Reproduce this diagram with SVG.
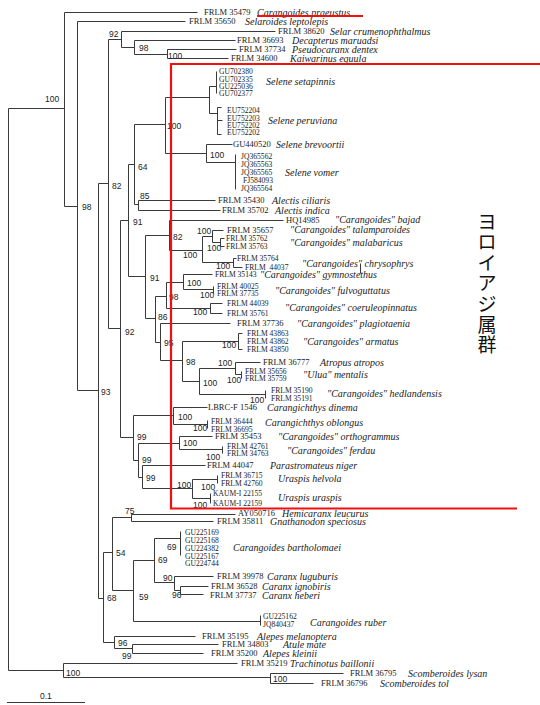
<svg xmlns="http://www.w3.org/2000/svg" width="540" height="705" viewBox="0 0 540 705">
<style>
.e{fill:none;stroke:#3a3a3a;stroke-width:1}
.a{font-family:"Liberation Serif",serif;font-size:8.5px;fill:#222}
.k{font-family:"Liberation Serif",serif;font-size:7.6px;fill:#222}
.s{font-family:"Liberation Serif",serif;font-size:10px;font-style:italic;fill:#222}
.b{font-family:"Liberation Sans",sans-serif;font-size:8.5px;fill:#222}
.r{fill:none;stroke:#f01010;stroke-width:2.2}
.j{font-family:"Noto Sans CJK JP",sans-serif;font-size:19px;fill:#111}
</style>
<rect width="540" height="705" fill="#fff"/>
<g id="connectors" transform="translate(0.5,0.5)">
<path class="e" d="M8 108V670 M8 108H64 M64 12V206 M64 12H197 M64 206H77 M77 21V390 M77 21H185 M77 390H98 M98 183V598 M98 183H108 M108 39V328 M108 39H121 M121 31V47 M121 31H275 M121 47H134 M134 40V54 M134 40H235 M134 54H167 M167 49V58 M167 49H236 M167 58H228
M108 328H120 M120 220V437 M120 220H128 M128 164V276 M128 164H134 M134 124V204 M134 124H165 M165 97V153 M165 97H209 M209 86V113 M209 86H216 M216 71V93 M209 113H217 M217 107V134 M217 107H221 M217 120H222 M217 134H221
M165 153H206 M206 144V162 M206 144H232 M206 162H235 M235 154V189
M134 204H138 M138 200V210 M138 200H215 M138 210H220
M128 276H145 M145 235V318 M145 235H169 M169 220V250 M169 220H283 M169 250H202 M202 236V262 M202 236H212 M212 230V242 M212 230H223 M212 242H220 M220 238V246 M220 238H224 M220 246H224 M202 262H233 M233 258V267 M233 258H236 M233 267H242
M145 318H155 M155 296V342 M155 296H166 M166 282V308 M166 282H183 M183 274V289 M183 274H212 M183 289H213 M213 286V293 M166 308H210 M210 303V313 M210 303H222 M210 313H222
M155 342H160 M160 323V360 M160 323H230 M160 360H182 M182 341V381 M182 341H238 M238 333V349 M238 333H242 M238 349H242 M182 381H199 M199 368V394 M199 368H235 M235 362V374 M235 362H260 M235 374H241 M241 371V378 M199 394H265 M265 390V398
M120 437H133 M133 415V460 M133 415H173 M173 407V424 M173 407H207 M173 424H207 M207 420V428 M133 460H138 M138 443V477 M138 443H179 M179 436V449 M179 436H212 M179 449H222 M222 446V453 M138 477H142 M142 465V488 M142 465H205 M142 488H192 M192 479V498 M192 479H217 M217 475V483 M192 498H210 M210 493V503
M98 598H103 M103 552V642 M103 552H112 M112 517V590 M112 517H131 M131 514V521 M131 514H235 M131 521H213 M112 590H133 M133 560V621 M133 560H154 M154 538V582 M154 538H180 M180 531V555 M154 582H174 M174 576V590 M174 576H213 M174 590H180 M180 586V594 M180 586H208 M180 594H203 M133 621H260 M260 615V625
M103 642H114 M114 636V648 M114 636H195 M114 648H132 M132 644V653 M132 644H218 M132 653H203
M8 670H63 M63 663V677 M63 663H237 M63 677H270 M270 673V683 M270 673H343 M270 683H313
M360 263V273"/>
</g>
<g id="bootstrap">
<text class="b" x="45" y="102">100</text>
<text class="b" x="82" y="210">98</text>
<text class="b" x="109" y="37">92</text>
<text class="b" x="139" y="51">98</text>
<text class="b" x="168" y="59">100</text>
<text class="b" x="167" y="129">100</text>
<text class="b" x="210" y="158">100</text>
<text class="b" x="138" y="170">64</text>
<text class="b" x="140" y="199">85</text>
<text class="b" x="112" y="189">82</text>
<text class="b" x="133" y="225">91</text>
<text class="b" x="101" y="395">93</text>
<text class="b" x="173" y="240">82</text>
<text class="b" x="197" y="234">100</text>
<text class="b" x="207" y="251">100</text>
<text class="b" x="183" y="258">100</text>
<text class="b" x="216" y="269">100</text>
<text class="b" x="150" y="281">91</text>
<text class="b" x="187" y="286">100</text>
<text class="b" x="200" y="298">100</text>
<text class="b" x="169" y="300">98</text>
<text class="b" x="193" y="315">100</text>
<text class="b" x="158" y="320">86</text>
<text class="b" x="164" y="346">95</text>
<text class="b" x="186" y="365">98</text>
<text class="b" x="222" y="348">100</text>
<text class="b" x="218" y="366">100</text>
<text class="b" x="227" y="383">100</text>
<text class="b" x="203" y="386">100</text>
<text class="b" x="250" y="403">100</text>
<text class="b" x="125" y="335">92</text>
<text class="b" x="137" y="440">99</text>
<text class="b" x="142" y="463">99</text>
<text class="b" x="146" y="481">99</text>
<text class="b" x="178" y="420">100</text>
<text class="b" x="193" y="431">100</text>
<text class="b" x="183" y="446">100</text>
<text class="b" x="206" y="460">100</text>
<text class="b" x="177" y="488">100</text>
<text class="b" x="201" y="490">100</text>
<text class="b" x="193" y="508">100</text>
<text class="b" x="125" y="514">75</text>
<text class="b" x="116" y="556">54</text>
<text class="b" x="107" y="601">68</text>
<text class="b" x="139" y="600">59</text>
<text class="b" x="158" y="563">69</text>
<text class="b" x="167" y="550">69</text>
<text class="b" x="163" y="581">90</text>
<text class="b" x="172" y="598">96</text>
<text class="b" x="118" y="646">96</text>
<text class="b" x="122" y="659">99</text>
<text class="b" x="66" y="676">100</text>
<text class="b" x="273" y="682">100</text>
</g>
<g id="scale">
<path class="e" d="M7 702.5H85"/>
<text class="b" x="40" y="699">0.1</text>
</g>
<g id="taxa">
<g id="praeustus"><text class="a" x="204" y="15">FRLM 35479</text><text class="s" x="257" y="15.5">Carangoides praeustus</text></g>
<g id="leptolepis"><text class="a" x="189" y="24">FRLM 35650</text><text class="s" x="245" y="24.5">Selaroides leptolepis</text></g>
<g id="crumenophthalmus"><text class="a" x="278" y="34">FRLM 38620</text><text class="s" x="330" y="34.5">Selar crumenophthalmus</text></g>
<g id="maruadsi"><text class="a" x="237" y="43">FRLM 36693</text><text class="s" x="292" y="43.5">Decapterus maruadsi</text></g>
<g id="dentex"><text class="a" x="239" y="52">FRLM 37734</text><text class="s" x="292" y="52.5">Pseudocaranx dentex</text></g>
<g id="equula"><text class="a" x="231" y="61">FRLM 34600</text><text class="s" x="290" y="61.5">Kaiwarinus equula</text></g>
<g id="setapinnis"><text class="k" x="219" y="74">GU702380</text><text class="k" x="219" y="81.5">GU702335</text><text class="k" x="219" y="89">GU225036</text><text class="k" x="219" y="96">GU702377</text><text class="s" x="266" y="84.5">Selene setapinnis</text></g>
<g id="peruviana"><text class="k" x="227" y="113">EU752204</text><text class="k" x="227" y="120.5">EU752203</text><text class="k" x="227" y="128">EU752202</text><text class="k" x="227" y="135">EU752202</text><text class="s" x="268" y="123.5">Selene peruviana</text></g>
<g id="brevoortii"><text class="a" x="233" y="147">GU440520</text><text class="s" x="276" y="147.5">Selene brevoortii</text></g>
<g id="vomer"><text class="k" x="241" y="159">JQ365562</text><text class="k" x="241" y="167">JQ365563</text><text class="k" x="241" y="175">JQ365565</text><text class="k" x="243" y="183">FJ584093</text><text class="k" x="241" y="191">JQ365564</text><text class="s" x="285" y="175.5">Selene vomer</text></g>
<g id="ciliaris"><text class="a" x="218" y="203">FRLM 35430</text><text class="s" x="272" y="203.5">Alectis ciliaris</text></g>
<g id="indica"><text class="a" x="222" y="213">FRLM 35702</text><text class="s" x="275" y="213.5">Alectis indica</text></g>
<g id="bajad"><text class="a" x="286" y="223">HQ14985</text><text class="s" x="335" y="222.5">"Carangoides" bajad</text></g>
<g id="talamparoides"><text class="a" x="227" y="233">FRLM 35657</text><text class="s" x="290" y="232.5">"Carangoides" talamparoides</text></g>
<g id="malabaricus"><text class="k" x="226" y="241">FRLM 35762</text><text class="k" x="226" y="249">FRLM 35763</text><text class="s" x="290" y="245.5">"Carangoides" malabaricus</text></g>
<g id="chrysophrys"><text class="k" x="237" y="261">FRLM 35764</text><text class="k" x="245" y="270" xml:space="preserve">FRLM  44037</text><text class="s" x="302" y="266.5">"Carangoides" chrysophrys</text></g>
<g id="gymnostethus"><text class="k" x="215" y="277">FRLM 35143</text><text class="s" x="260" y="277.5">"Carangoides" gymnostethus</text></g>
<g id="fulvoguttatus"><text class="k" x="217" y="288.5">FRLM 40025</text><text class="k" x="217" y="296">FRLM 37735</text><text class="s" x="275" y="293.5">"Carangoides" fulvoguttatus</text></g>
<g id="coeruleopinnatus"><text class="k" x="227" y="306">FRLM 44039</text><text class="k" x="227" y="316">FRLM 35761</text><text class="s" x="285" y="310.5">"Carangoides" coeruleopinnatus</text></g>
<g id="plagiotaenia"><text class="a" x="237" y="326">FRLM 37736</text><text class="s" x="297" y="326.5">"Carangoides" plagiotaenia</text></g>
<g id="armatus"><text class="k" x="247" y="336">FRLM 43863</text><text class="k" x="247" y="344">FRLM 43862</text><text class="k" x="247" y="352">FRLM 43850</text><text class="s" x="303" y="344.5">"Carangoides" armatus</text></g>
<g id="atropos"><text class="a" x="263" y="365">FRLM 36777</text><text class="s" x="320" y="365.5">Atropus atropos</text></g>
<g id="mentalis"><text class="k" x="245" y="373.5">FRLM 35656</text><text class="k" x="245" y="381">FRLM 35759</text><text class="s" x="303" y="377.5">"Ulua" mentalis</text></g>
<g id="hedlandensis"><text class="k" x="271" y="393">FRLM 35190</text><text class="k" x="271" y="401">FRLM 35191</text><text class="s" x="327" y="396.5">"Carangoides" hedlandensis</text></g>
<g id="dinema"><text class="a" x="208" y="410">LBRC-F 1546</text><text class="s" x="267" y="410.5">Carangichthys dinema</text></g>
<g id="oblongus"><text class="k" x="211" y="424">FRLM 36444</text><text class="k" x="211" y="432">FRLM 36695</text><text class="s" x="265" y="425.5">Carangichthys oblongus</text></g>
<g id="orthogrammus"><text class="a" x="215" y="439">FRLM 35453</text><text class="s" x="278" y="439.5">"Carangoides" orthogrammus</text></g>
<g id="ferdau"><text class="k" x="227" y="448.5">FRLM 42761</text><text class="k" x="227" y="456">FRLM 34763</text><text class="s" x="287" y="453.5">"Carangoides" ferdau</text></g>
<g id="niger"><text class="a" x="207" y="468">FRLM 44047</text><text class="s" x="270" y="468.5">Parastromateus niger</text></g>
<g id="helvola"><text class="k" x="221" y="478">FRLM 36715</text><text class="k" x="221" y="486">FRLM 42760</text><text class="s" x="278" y="481.5">Uraspis helvola</text></g>
<g id="uraspis"><text class="k" x="213" y="496">KAUM-I 22155</text><text class="k" x="213" y="506">KAUM-I 22159</text><text class="s" x="278" y="500.5">Uraspis uraspis</text></g>
<g id="leucurus"><text class="a" x="238" y="516">AY050716</text><text class="s" x="282" y="516.5">Hemicaranx leucurus</text></g>
<g id="speciosus"><text class="a" x="217" y="524">FRLM 35811</text><text class="s" x="270" y="524.5">Gnathanodon speciosus</text></g>
<g id="bartholomaei"><text class="k" x="185" y="535">GU225169</text><text class="k" x="185" y="543">GU225168</text><text class="k" x="185" y="551">GU224382</text><text class="k" x="185" y="558.5">GU225167</text><text class="k" x="185" y="566">GU224744</text><text class="s" x="233" y="550.5">Carangoides bartholomaei</text></g>
<g id="luguburis"><text class="a" x="217" y="579">FRLM 39978</text><text class="s" x="267" y="579.5">Caranx luguburis</text></g>
<g id="ignobiris"><text class="a" x="211" y="589">FRLM 36528</text><text class="s" x="262" y="589.5">Caranx ignobiris</text></g>
<g id="heberi"><text class="a" x="210" y="598">FRLM 37737</text><text class="s" x="262" y="598.5">Caranx heberi</text></g>
<g id="ruber"><text class="k" x="263" y="619">GU225162</text><text class="k" x="263" y="627">JQ840437</text><text class="s" x="310" y="625.5">Carangoides ruber</text></g>
<g id="melanoptera"><text class="a" x="202" y="639">FRLM 35195</text><text class="s" x="257" y="639.5">Alepes melanoptera</text></g>
<g id="mate"><text class="a" x="222" y="647">FRLM 34803</text><text class="s" x="283" y="647.5">Atule mate</text></g>
<g id="kleinii"><text class="a" x="211" y="656">FRLM 35200</text><text class="s" x="263" y="656.5">Alepes kleinii</text></g>
<g id="baillonii"><text class="a" x="241" y="666">FRLM 35219</text><text class="s" x="290" y="666.5">Trachinotus baillonii</text></g>
<g id="lysan"><text class="a" x="350" y="676">FRLM 36795</text><text class="s" x="408" y="676.5">Scomberoides lysan</text></g>
<g id="tol"><text class="a" x="321" y="686">FRLM 36796</text><text class="s" x="380" y="686.5">Scomberoides tol</text></g>
</g>
<g id="highlight">
<path class="r" d="M257 16H363"/>
<path class="r" d="M540 64H171V508.5H517"/>
<text class="j" x="487" text-anchor="middle"><tspan x="487" y="228.6">ヨ</tspan><tspan x="487" y="249.2">ロ</tspan><tspan x="487" y="269.8">イ</tspan><tspan x="487" y="290.4">ア</tspan><tspan x="487" y="311">ジ</tspan><tspan x="487" y="331.6">属</tspan><tspan x="487" y="352.2">群</tspan></text>
</g>
</svg>
